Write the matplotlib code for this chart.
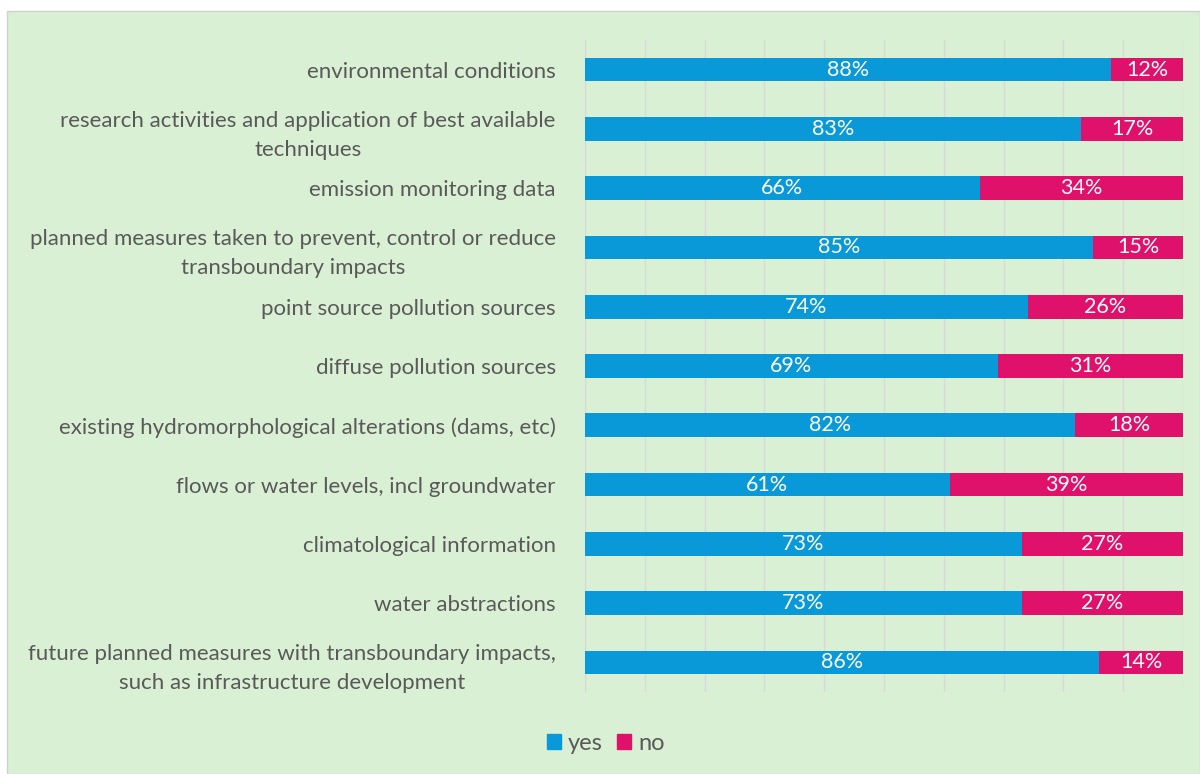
import matplotlib
matplotlib.use("Agg")
import matplotlib.pyplot as plt
from matplotlib.patches import Rectangle, Patch
import numpy as np

categories = [
    "environmental conditions",
    "research activities and application of best available\ntechniques",
    "emission monitoring data",
    "planned measures taken to prevent, control or reduce\ntransboundary impacts",
    "point source pollution sources",
    "diffuse pollution sources",
    "existing hydromorphological alterations (dams, etc)",
    "flows or water levels, incl groundwater",
    "climatological information",
    "water abstractions",
    "future planned measures with transboundary impacts,\nsuch as infrastructure development",
]
yes_vals = [88, 83, 66, 85, 74, 69, 82, 61, 73, 73, 86]
no_vals = [12, 17, 34, 15, 26, 31, 18, 39, 27, 27, 14]

BLUE = "#0999D9"
PINK = "#E0116A"
BG = "#DAF0D4"
TXT = "#595959"

plt.rcParams['font.family'] = ['Lato', 'DejaVu Sans']

fig = plt.figure(figsize=(12, 7.74), dpi=100)
fig.patch.set_facecolor("white")
fig.patches.append(Rectangle((7/1200, 0), 1 - 7/1200, 1 - 11/774, transform=fig.transFigure,
                             facecolor=BG, edgecolor="#D0D0D0", linewidth=1, zorder=-10))

ax = fig.add_axes([585/1200, 1 - 692/774, (1183 - 585)/1200, (692 - 40)/774])
ax.set_facecolor("none")

y = np.arange(len(categories))
h = 0.4
ax.barh(y, yes_vals, height=h, color=BLUE, label="yes", zorder=3)
ax.barh(y, no_vals, left=yes_vals, height=h, color=PINK, label="no", zorder=3)

for i, (a, b) in enumerate(zip(yes_vals, no_vals)):
    ax.text(a / 2, i, f"{a}%", ha="center", va="center", color="white", fontsize=15.5, zorder=4)
    ax.text(a + b / 2, i, f"{b}%", ha="center", va="center", color="white", fontsize=15.5, zorder=4)

ax.set_xlim(0, 100)
ax.set_ylim(len(categories) - 0.5, -0.5)
ax.set_xticks(np.arange(0, 101, 10))
ax.set_xticklabels([])
ax.tick_params(axis="x", length=0)
ax.grid(axis="x", color="#D9D9D9", linewidth=1, zorder=0)
ax.set_yticks(y)
ax.set_yticklabels(categories, fontsize=16, color=TXT, multialignment="center", linespacing=1.55)
ax.tick_params(axis="y", length=0, pad=21)
for s in ["top", "right", "bottom"]:
    ax.spines[s].set_visible(False)
ax.spines["left"].set_color("#D9D9D9")

handles = [Patch(color=BLUE, label="yes"), Patch(color=PINK, label="no")]
leg = fig.legend(handles=handles, loc="center", bbox_to_anchor=(606/1200, 1 - 743/774), ncol=2,
                 frameon=False, fontsize=17, handlelength=0.6, handleheight=0.6,
                 handletextpad=0.3, columnspacing=0.6)
for t in leg.get_texts():
    t.set_color(TXT)

fig.savefig("out.png", dpi=100)
